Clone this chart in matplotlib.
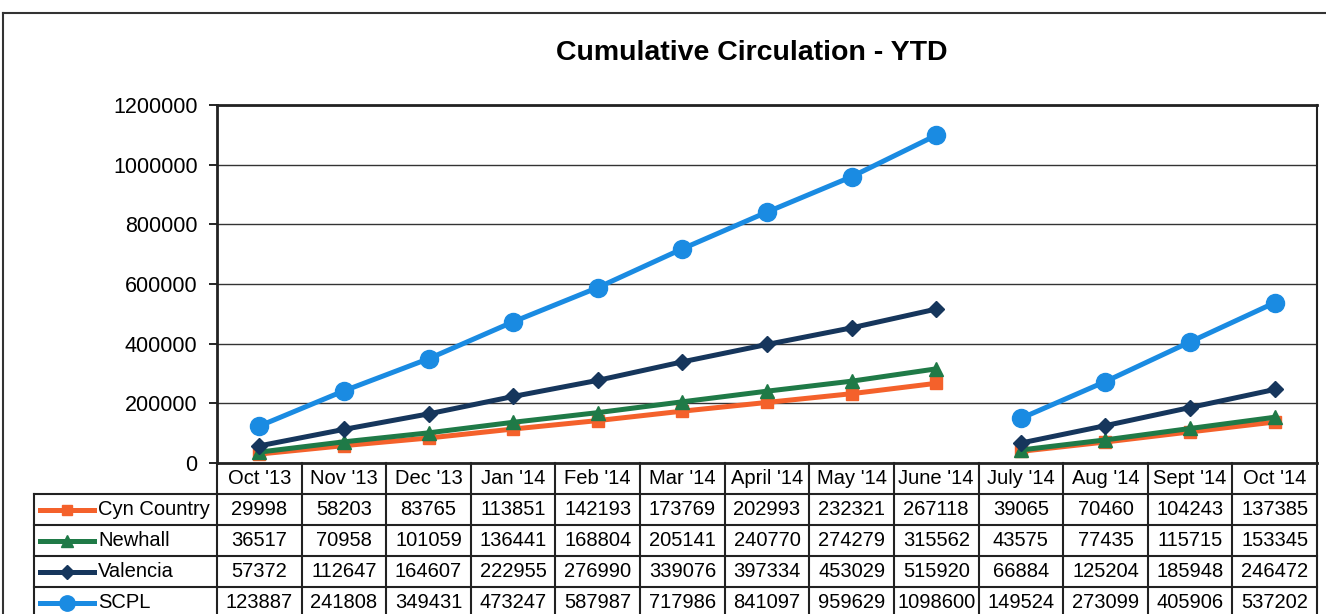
import matplotlib.pyplot as plt
from matplotlib.lines import Line2D

plt.rcParams['font.family'] = ['Liberation Sans', 'DejaVu Sans']

months = ["Oct '13", "Nov '13", "Dec '13", "Jan '14", "Feb '14", "Mar '14", "April '14",
          "May '14", "June '14", "July '14", "Aug '14", "Sept '14", "Oct '14"]
cyn_country = [29998, 58203, 83765, 113851, 142193, 173769, 202993, 232321, 267118,
               39065, 70460, 104243, 137385]
newhall = [36517, 70958, 101059, 136441, 168804, 205141, 240770, 274279, 315562,
           43575, 77435, 115715, 153345]
valencia = [57372, 112647, 164607, 222955, 276990, 339076, 397334, 453029, 515920,
            66884, 125204, 185948, 246472]
scpl = [123887, 241808, 349431, 473247, 587987, 717986, 841097, 959629, 1098600,
        149524, 273099, 405906, 537202]
break_at = 9  # fiscal year restarts at July '14

series = [
    ("Cyn Country", cyn_country, "#F4612B", "s", 9),
    ("Newhall", newhall, "#1F7A47", "^", 10),
    ("Valencia", valencia, "#16365C", "D", 8),
    ("SCPL", scpl, "#1A8BE2", "o", 13),
]

W, H = 1326, 614
fig = plt.figure(figsize=(W / 100, H / 100), dpi=100)

x0, x1 = 217, 1317
y_top, y_zero = 105, 463
ax = fig.add_axes([x0 / W, 1 - y_zero / H, (x1 - x0) / W, (y_zero - y_top) / H])

xs = list(range(len(months)))
for name, vals, color, mk, ms in series:
    for a, b in [(0, break_at), (break_at, len(months))]:
        ax.plot(xs[a:b], vals[a:b], color=color, lw=3.6, marker=mk, ms=ms,
                clip_on=False, zorder=3)

ax.set_xlim(-0.5, len(months) - 0.5)
ax.set_ylim(0, 1200000)
ax.set_yticks(range(0, 1200001, 200000))
ax.set_yticklabels([str(v) for v in range(0, 1200001, 200000)], fontsize=15.5)
ax.set_xticks([])
ax.tick_params(axis='y', length=6, width=1.2, pad=8)
ax.grid(axis='y', color='#333333', lw=1.0)
ax.set_axisbelow(True)
for s in ax.spines.values():
    s.set_color('#222222')
ax.spines['left'].set_linewidth(2)
ax.spines['top'].set_linewidth(2)
ax.spines['right'].set_linewidth(1.5)
ax.spines['bottom'].set_linewidth(2)

fig.text(752 / W, 1 - 53 / H, "Cumulative Circulation - YTD", ha='center', va='center',
         fontsize=20.5, fontweight='bold')

# outer chart frame
fig.add_artist(Line2D([3 / W, 3 / W], [0, 1 - 13 / H], transform=fig.transFigure,
                      color='#333333', lw=1.5))
fig.add_artist(Line2D([3 / W, 1], [1 - 13 / H, 1 - 13 / H], transform=fig.transFigure,
                      color='#333333', lw=1.5))

# data table below the axis
col_w = (x1 - x0) / len(months)
row_edges = [463, 494, 525, 556, 587, 618]
lc = '#222222'
tfs = 14.5


def fx(px):
    return px / W


def fy(py):
    return 1 - py / H


fig.add_artist(Line2D([fx(x0), fx(x1)], [fy(494), fy(494)], transform=fig.transFigure,
                      color=lc, lw=1.5))
fig.add_artist(Line2D([fx(34), fx(x0)], [fy(494), fy(494)], transform=fig.transFigure,
                      color=lc, lw=1.5))
for ry in row_edges[2:5]:
    fig.add_artist(Line2D([fx(34), fx(x1)], [fy(ry), fy(ry)], transform=fig.transFigure,
                          color=lc, lw=1.5))
for i in range(len(months) + 1):
    xx = x0 + i * col_w
    fig.add_artist(Line2D([fx(xx), fx(xx)], [fy(614), fy(463)], transform=fig.transFigure,
                          color=lc, lw=1.5))
fig.add_artist(Line2D([fx(34), fx(34)], [fy(614), fy(494)], transform=fig.transFigure,
                      color=lc, lw=1.5))

for i, m in enumerate(months):
    fig.text(fx(x0 + (i + 0.5) * col_w), fy(479), m, ha='center', va='center', fontsize=tfs)

for r, (name, vals, color, mk, ms) in enumerate(series):
    yc = (row_edges[r + 1] + row_edges[r + 2]) / 2
    fig.add_artist(Line2D([fx(40), fx(94)], [fy(yc), fy(yc)], transform=fig.transFigure,
                          color=color, lw=3.6))
    fig.add_artist(Line2D([fx(67)], [fy(yc)], transform=fig.transFigure, color=color,
                          marker=mk, ms=ms * 0.85, lw=0))
    fig.text(fx(98), fy(yc), name, ha='left', va='center', fontsize=tfs)
    for i, v in enumerate(vals):
        fig.text(fx(x0 + (i + 0.5) * col_w), fy(yc), str(v), ha='center', va='center',
                 fontsize=tfs)

fig.savefig("out.png", dpi=100)
